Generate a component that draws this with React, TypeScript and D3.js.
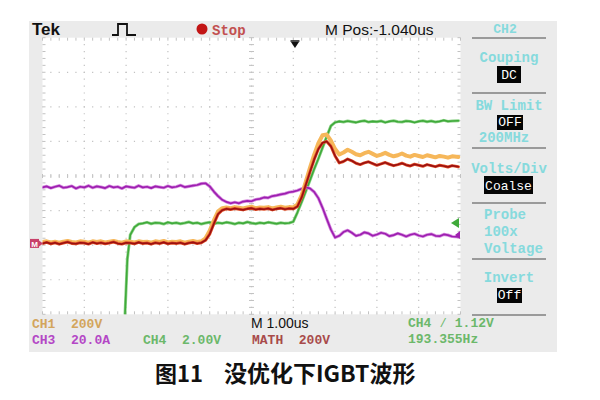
import React from "react";
import * as d3 from "d3";

// Sample times in divisions (1.00us/div)
const TIME = [
  0.0, 0.1, 0.2, 0.3, 0.4, 0.5, 0.6, 0.7, 0.8, 0.9,
  1.0, 1.1, 1.2, 1.3, 1.4, 1.5, 1.6, 1.7, 1.8, 1.9,
  2.0, 2.1, 2.2, 2.3, 2.4, 2.5, 2.6, 2.7, 2.8, 2.9,
  3.0, 3.1, 3.2, 3.3, 3.4, 3.5, 3.6, 3.7, 3.8, 3.9,
  4.0, 4.1, 4.2, 4.3, 4.4, 4.5, 4.6, 4.7, 4.8, 4.9,
  5.0, 5.1, 5.2, 5.3, 5.4, 5.5, 5.6, 5.7, 5.8, 5.9,
  6.0, 6.1, 6.2, 6.3, 6.4, 6.5, 6.6, 6.7, 6.8, 6.9,
  7.0, 7.1, 7.2, 7.3, 7.4, 7.5, 7.6, 7.7, 7.8, 7.9,
  8.0, 8.1, 8.2, 8.3, 8.4, 8.5, 8.6, 8.7, 8.8, 8.9,
  9.0, 9.1, 9.2, 9.3, 9.4, 9.5, 9.6, 9.7, 9.8, 9.95,
];

// MATH trace (dark red), divisions
const MATH_VALUES = [
  2.05, 2.08, 2.04, 2.07, 2.03, 2.06, 2.09, 2.05, 2.04, 2.07,
  2.06, 2.03, 2.08, 2.05, 2.07, 2.04, 2.06, 2.09, 2.05, 2.03,
  2.07, 2.06, 2.04, 2.08, 2.05, 2.06, 2.03, 2.07, 2.05, 2.08,
  2.04, 2.06, 2.05, 2.07, 2.03, 2.06, 2.08, 2.05, 2.07, 2.14,
  2.32, 2.62, 2.9, 3.01, 3.05, 3.03, 3.06, 3.04, 3.02, 3.05,
  3.07, 3.03, 3.05, 3.04, 3.06, 3.02, 3.05, 3.07, 3.04, 3.06,
  3.05, 3.12, 3.38, 3.75, 4.12, 4.48, 4.78, 4.96, 5.0, 4.86,
  4.58, 4.38, 4.42, 4.49, 4.44, 4.37, 4.33, 4.38, 4.41, 4.36,
  4.31, 4.35, 4.39, 4.34, 4.3, 4.33, 4.37, 4.32, 4.29, 4.34,
  4.31, 4.28, 4.33, 4.3, 4.27, 4.31, 4.29, 4.26, 4.3, 4.27,
];

// CH1 (orange) trace, divisions
const CH1_VALUES = [
  2.09, 2.11, 2.08, 2.1, 2.07, 2.1, 2.12, 2.09, 2.08, 2.11,
  2.1, 2.07, 2.11, 2.09, 2.11, 2.08, 2.1, 2.12, 2.09, 2.07,
  2.11, 2.1, 2.08, 2.11, 2.09, 2.1, 2.07, 2.11, 2.09, 2.12,
  2.08, 2.1, 2.09, 2.11, 2.07, 2.1, 2.12, 2.09, 2.11, 2.2,
  2.42, 2.72, 2.98, 3.07, 3.09, 3.07, 3.1, 3.08, 3.06, 3.09,
  3.11, 3.07, 3.09, 3.08, 3.1, 3.06, 3.09, 3.11, 3.08, 3.1,
  3.09, 3.18, 3.45, 3.84, 4.24, 4.62, 4.95, 5.18, 5.2, 5.02,
  4.78, 4.62, 4.68, 4.76, 4.7, 4.63, 4.6, 4.66, 4.7, 4.64,
  4.58, 4.62, 4.67, 4.61, 4.57, 4.6, 4.65, 4.59, 4.56, 4.61,
  4.58, 4.55, 4.6, 4.57, 4.54, 4.58, 4.56, 4.53, 4.57, 4.55,
];

// CH3 (purple, current) trace, divisions
const CH3_VALUES = [
  3.67, 3.7, 3.65, 3.69, 3.72, 3.66, 3.68, 3.71, 3.64, 3.69,
  3.67, 3.72, 3.66, 3.7, 3.68, 3.65, 3.71, 3.67, 3.69, 3.64,
  3.7, 3.68, 3.66, 3.72, 3.67, 3.69, 3.65, 3.7, 3.68, 3.66,
  3.71, 3.67, 3.69, 3.73, 3.68, 3.7, 3.72, 3.74, 3.78, 3.79,
  3.7, 3.55, 3.42, 3.31, 3.25, 3.21, 3.24, 3.21, 3.26, 3.28,
  3.27, 3.32, 3.34, 3.38, 3.37, 3.42, 3.44, 3.47, 3.49, 3.53,
  3.55, 3.58, 3.63, 3.67, 3.64, 3.54, 3.36, 3.08, 2.76, 2.45,
  2.22, 2.27, 2.38, 2.43, 2.36, 2.27, 2.3, 2.37, 2.34, 2.27,
  2.31, 2.36, 2.33, 2.26, 2.29, 2.34, 2.3, 2.25, 2.3, 2.33,
  2.28, 2.25, 2.3, 2.32, 2.27, 2.26, 2.31, 2.29, 2.25, 2.24,
];

// CH4 (green, gate) trace
const CH4_TIME = [
  1.97, 2.03, 2.1, 2.2, 2.3,
  2.4, 2.5, 2.6, 2.7, 2.8, 2.9, 3.0, 3.1, 3.2, 3.3,
  3.4, 3.5, 3.6, 3.7, 3.8, 3.9, 4.0, 4.1, 4.2, 4.3,
  4.4, 4.5, 4.6, 4.7, 4.8, 4.9, 5.0, 5.1, 5.2, 5.3,
  5.4, 5.5, 5.6, 5.7, 5.8, 5.9,
  6.0, 6.1, 6.2, 6.3, 6.4, 6.5, 6.6, 6.7, 6.8, 6.9,
  7.0, 7.1, 7.2, 7.3, 7.4, 7.5, 7.6, 7.7, 7.8, 7.9,
  8.0, 8.1, 8.2, 8.3, 8.4, 8.5, 8.6, 8.7, 8.8, 8.9,
  9.0, 9.1, 9.2, 9.3, 9.4, 9.5, 9.6, 9.7, 9.8, 9.95,
];
const CH4_VALUES = [
  -0.1, 1.6, 2.3, 2.52, 2.61,
  2.63, 2.66, 2.62, 2.65, 2.64, 2.61, 2.66, 2.63, 2.65, 2.62,
  2.64, 2.67, 2.63, 2.65, 2.61, 2.64, 2.66, 2.62, 2.65, 2.63,
  2.66, 2.64, 2.61, 2.65, 2.63, 2.67, 2.64, 2.62, 2.65, 2.63,
  2.66, 2.64, 2.62, 2.65, 2.63, 2.64,
  2.68, 2.95, 3.25, 3.56, 3.88, 4.2, 4.5, 4.82, 5.14, 5.45,
  5.55, 5.58, 5.56, 5.59, 5.57, 5.55, 5.58, 5.6, 5.56, 5.58,
  5.57, 5.59, 5.55, 5.58, 5.6, 5.57, 5.56, 5.59, 5.58, 5.55,
  5.58, 5.6, 5.57, 5.59, 5.56, 5.58, 5.61, 5.58, 5.59, 5.6,
];

const MENU_TITLES = ["Couping", "BW Limit", "Volts/Div", "Probe", "Invert"];
const MENU_VALUES = ["DC", "OFF", "Coalse", "", "Off"];

const X_DIVS = 10;
const Y_DIVS = 8;

const PL = 42.5, PR = 460.5, PT = 37.7, PB = 314.3;

export default function App() {
  const x = d3.scaleLinear().domain([0, X_DIVS]).range([PL, PR]);
  const y = d3.scaleLinear().domain([0, Y_DIVS]).range([PB, PT]);

  const line = (ts: number[], vs: number[]) =>
    d3.line<number>().x((_, i) => x(ts[i])).y((v) => y(v))(vs) || "";

  const dxSub = (x(1) - x(0)) / 5;
  const dySub = (y(0) - y(1)) / 5;

  const gridColor = "#c2c2c2";
  const grid: React.ReactNode[] = [];
  for (let i = 1; i < X_DIVS; i++) {
    if (i === 5) continue;
    grid.push(
      <line key={"vx" + i} x1={x(i)} x2={x(i)} y1={PT} y2={PB}
        stroke={gridColor} strokeWidth={1.2}
        strokeDasharray={`1.2 ${dySub - 1.2}`} strokeDashoffset={0.6} />
    );
  }
  for (let j = 1; j < Y_DIVS; j++) {
    if (j === 4) continue;
    grid.push(
      <line key={"hy" + j} y1={y(j)} y2={y(j)} x1={PL} x2={PR}
        stroke={gridColor} strokeWidth={1.2}
        strokeDasharray={`1.2 ${dxSub - 1.2}`} strokeDashoffset={0.6} />
    );
  }
  // center axes and border ticks
  const ticks: React.ReactNode[] = [];
  for (let k = 0; k <= X_DIVS * 5; k++) {
    const xx = PL + k * dxSub;
    ticks.push(<line key={"cx" + k} x1={xx} x2={xx} y1={y(4) - 2} y2={y(4) + 2} stroke={gridColor} />);
    ticks.push(<line key={"tx" + k} x1={xx} x2={xx} y1={PT} y2={PT + 3} stroke={gridColor} />);
    ticks.push(<line key={"bx" + k} x1={xx} x2={xx} y1={PB - 3} y2={PB} stroke={gridColor} />);
  }
  for (let k = 0; k <= Y_DIVS * 5; k++) {
    const yy = PB - k * dySub;
    ticks.push(<line key={"cy" + k} y1={yy} y2={yy} x1={x(5) - 2.5} x2={x(5) + 2.5} stroke={gridColor} />);
    ticks.push(<line key={"ly" + k} y1={yy} y2={yy} x1={PL} x2={PL + 3} stroke={gridColor} />);
    ticks.push(<line key={"ry" + k} y1={yy} y2={yy} x1={PR - 3} x2={PR} stroke={gridColor} />);
  }

  const mono = "'Liberation Mono', 'DejaVu Sans Mono', monospace";
  const sans = "'Liberation Sans', Arial, sans-serif";
  const cyan = "#86dadd";

  const menuY = [62, 110, 173, 219, 282];
  const boxes = [
    { x: 497, y: 66, w: 24, h: 17 },
    { x: 497, y: 115, w: 26, h: 15 },
    { x: 484, y: 176, w: 49, h: 18 },
    null,
    { x: 497, y: 288, w: 25, h: 15 },
  ];
  const sepY = [38, 93, 148, 203, 259, 315];

  const trig = x(5 + 1.04);
  const cjk = "'Noto Sans CJK SC', sans-serif";

  return (
    <svg width={600} height={400} style={{ position: "absolute", left: 0, top: 0 }}>
      <rect x={0} y={0} width={600} height={400} fill="#ffffff" />
      {/* scope frame */}
      <rect x={29} y={21} width={528} height={331} fill="#ebebeb" />
      <rect x={PL} y={PT} width={PR - PL} height={PB - PT} fill="#ffffff" />
      <defs>
        <clipPath id="plotclip">
          <rect x={PL} y={PT} width={PR - PL} height={PB - PT} />
        </clipPath>
      </defs>
      {grid}
      {ticks}
      <line x1={x(5)} x2={x(5)} y1={PT} y2={PB} stroke={gridColor} strokeWidth={1.2}
        strokeDasharray={`1.2 ${dySub - 1.2}`} strokeDashoffset={0.6} />
      <line y1={y(4)} y2={y(4)} x1={PL} x2={PR} stroke={gridColor} strokeWidth={1.2}
        strokeDasharray={`1.2 ${dxSub - 1.2}`} strokeDashoffset={0.6} />

      <g clipPath="url(#plotclip)" fill="none" strokeLinejoin="round" strokeLinecap="round">
        <path d={line(CH4_TIME, CH4_VALUES)} stroke="#8fd28a" strokeWidth={3} />
        <path d={line(CH4_TIME, CH4_VALUES)} stroke="#3faa3a" strokeWidth={1.6} />
        <path d={line(TIME, CH3_VALUES)} stroke="#d88ee0" strokeWidth={3.2} />
        <path d={line(TIME, CH3_VALUES)} stroke="#9d1fb0" strokeWidth={1.7} />
        <path d={line(TIME, CH1_VALUES)} stroke="#f6b75a" strokeWidth={4} />
        <path d={line(TIME, MATH_VALUES)} stroke="#e0502a" strokeWidth={3} />
        <path d={line(TIME, MATH_VALUES)} stroke="#9a1010" strokeWidth={1.6} />
      </g>

      {/* ground marker for MATH */}
      <g>
        <rect x={30} y={y(MATH_VALUES[0]) - 4.5} width={9} height={9} fill="#c8406a" />
        <polygon points={`39,${y(MATH_VALUES[0]) - 3} 43,${y(MATH_VALUES[0])} 39,${y(MATH_VALUES[0]) + 3}`} fill="#c8406a" />
        <text x={34.5} y={y(MATH_VALUES[0]) + 3.2} fontSize={8} fill="#fff" textAnchor="middle" fontFamily={sans} fontWeight="bold">M</text>
      </g>
      {/* right level markers */}
      <polygon points={`451,${y(2.64)} 459,${y(2.64) - 5} 459,${y(2.64) + 5}`} fill="#3faa3a" />
      <polygon points={`455,${y(2.29)} 460,${y(2.29) - 4} 460,${y(2.29) + 4}`} fill="#a021b0" />

      {/* trigger position marker */}
      <polygon points={`${trig - 4},42 ${trig + 4},42 ${trig},48`} fill="#111" />
      <line x1={trig - 4.5} x2={trig + 4.5} y1={41} y2={41} stroke="#111" strokeWidth={1.5} />

      {/* top bar */}
      <text x={32} y={35} fontFamily={sans} fontWeight="bold" fontSize={17} fill="#111">Tek</text>
      <polyline points="112,35 118,35 118,24 127,24 127,35 136,35" fill="none" stroke="#111" strokeWidth={1.8} />
      <circle cx={202} cy={29} r={5.5} fill="#c21515" />
      <text x={212} y={34.5} fontFamily={mono} fontWeight="bold" fontSize={14} fill="#c25050">Stop</text>
      <text x={325} y={35} fontFamily={sans} fontSize={15.5} fill="#111">M Pos:-1.040us</text>

      {/* right menu */}
      <text x={505} y={33} fontFamily={mono} fontWeight="bold" fontSize={13} fill={cyan} textAnchor="middle">CH2</text>
      {sepY.map((sy, i) => (
        <line key={"sep" + i} x1={472} x2={546} y1={sy} y2={sy} stroke="#9a9a9a" strokeWidth={2} />
      ))}
      {MENU_TITLES.map((t, i) => (
        i === 3 ? null :
        <text key={"mt" + i} x={509} y={menuY[i]} fontFamily={mono} fontWeight="bold" fontSize={14} fill={cyan} textAnchor="middle">{t}</text>
      ))}
      <text x={484} y={219} fontFamily={mono} fontWeight="bold" fontSize={14} fill={cyan}>{MENU_TITLES[3]}</text>
      <text x={484} y={236} fontFamily={mono} fontWeight="bold" fontSize={14} fill={cyan}>100x</text>
      <text x={484} y={253} fontFamily={mono} fontWeight="bold" fontSize={14} fill={cyan}>Voltage</text>
      <text x={504} y={142} fontFamily={mono} fontWeight="bold" fontSize={14} fill={cyan} textAnchor="middle">200MHz</text>
      {boxes.map((b, i) =>
        b ? (
          <g key={"box" + i}>
            <rect x={b.x} y={b.y} width={b.w} height={b.h} fill="#050505" />
            <text x={b.x + b.w / 2} y={b.y + b.h - 4} fontFamily={mono} fontSize={13} fill="#fff" textAnchor="middle">{MENU_VALUES[i]}</text>
          </g>
        ) : null
      )}

      {/* bottom status */}
      <text x={32} y={328} fontFamily={mono} fontWeight="bold" fontSize={13} fill="#d3a55c" xmlSpace="preserve">CH1  200V</text>
      <text x={32} y={344} fontFamily={mono} fontWeight="bold" fontSize={13} fill="#b447c6" xmlSpace="preserve">CH3  20.0A</text>
      <text x={143} y={344} fontFamily={mono} fontWeight="bold" fontSize={13} fill="#6cb86a" xmlSpace="preserve">CH4  2.00V</text>
      <text x={251} y={328} fontFamily={sans} fontSize={14} fill="#111">M 1.00us</text>
      <text x={252} y={344} fontFamily={mono} fontWeight="bold" fontSize={13} fill="#a84a4a" xmlSpace="preserve">MATH  200V</text>
      <text x={408} y={327} fontFamily={mono} fontWeight="bold" fontSize={13} fill="#6cb86a" xmlSpace="preserve">CH4 ⁄ 1.12V</text>
      <text x={408} y={343} fontFamily={mono} fontWeight="bold" fontSize={13} fill="#6cb86a">193.355Hz</text>

      {/* caption */}
      <text x={155} y={382} fontFamily={cjk} fontWeight="bold" fontSize={22} fill="#111">图11</text>
      <text x={224} y={382} fontFamily={cjk} fontWeight="bold" fontSize={23} fill="#111">没优化下IGBT波形</text>
    </svg>
  );
}
